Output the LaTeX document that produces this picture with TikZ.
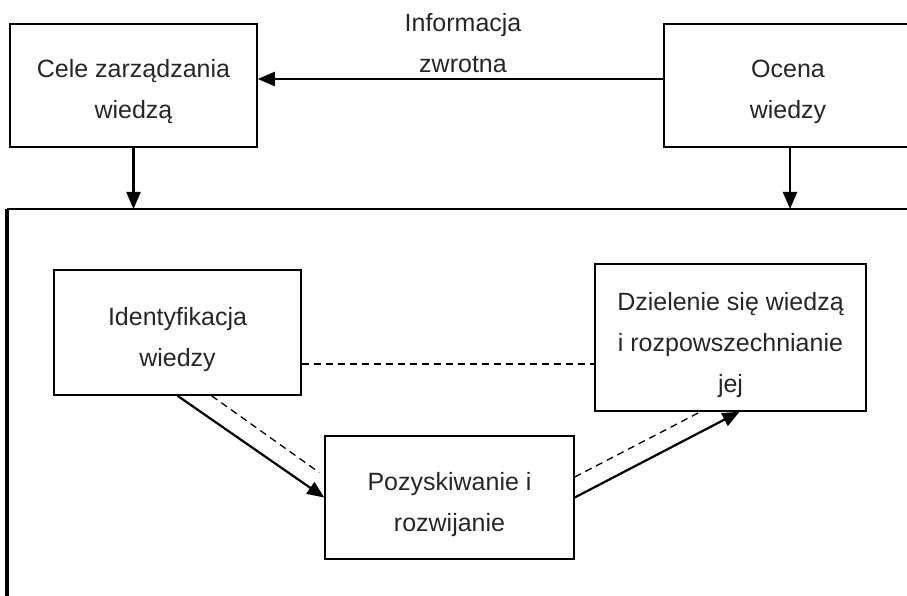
\documentclass[tikz,border=0pt]{standalone}
\usepackage{fontspec}
\setmainfont{Liberation Sans}
\usetikzlibrary{arrows.meta, positioning}

\tikzset{
  box/.style={draw, line width=1.5pt, align=center, inner sep=0pt, text=black!85,
    text height=67pt, text depth=0pt},
  arr/.style={line width=2.2pt, -{Triangle[length=17pt, width=14pt]}},
  dsh/.style={line width=1.3pt, dash pattern=on 7pt off 5pt},
}

\begin{document}
\begin{tikzpicture}[x=1pt, y=-1pt, font=\fontsize{25}{41}\selectfont]
\useasboundingbox (0,0) rectangle (907,596);
\clip (0,0) rectangle (907,596);

% upper level
\node[box, minimum width=247pt, minimum height=123pt] (cele) at (133.5,85.5) {Cele zarządzania\\wiedzą};
\node[box, minimum width=248pt, minimum height=123pt] (ocena) at (788,85.5) {Ocena\\wiedzy};
\node[text=black!85, align=center] (info) at (463,43.5) {Informacja\\zwrotna};

\draw[arr] ([yshift=6.5pt]ocena.west) -- ([yshift=6.5pt]cele.east);

% frame of the process
\coordinate (rama) at (7,209);
\draw[line width=1.6pt] (rama) -- (912,209);
\draw[line width=4pt] (rama) -- (7,600);

\draw[arr] (cele.south) -- (cele.south |- rama);
\draw[arr] ([xshift=2pt]ocena.south) -- ([xshift=2pt]ocena.south |- rama);

% inner stages
\node[box, minimum width=247pt, minimum height=125pt] (ident) at (177.5,332.5) {Identyfikacja\\wiedzy};
\node[box, minimum width=249pt, minimum height=123pt] (pozysk) at (449.5,497.5) {Pozyskiwanie i\\rozwijanie};
\node[box, minimum width=271pt, minimum height=147pt, text height=110pt] (dziel) at (730.5,337.5) {Dzielenie się wiedzą\\i rozpowszechnianie\\jej};

\coordinate (dl) at ([yshift=-31.5pt]ident.east);
\draw[dsh] (dl) -- (dl -| dziel.west);

\draw[arr] (ident.south) -- (pozysk.west);
\draw[dsh] ([xshift=34pt]ident.south) -- ([shift={(-5,-25)}]pozysk.west);

\draw[arr] (pozysk.east) -- ([xshift=9pt]dziel.south);
\draw[dsh] ([yshift=20.5pt]pozysk.east) -- ([xshift=-30pt]dziel.south);
\end{tikzpicture}
\end{document}
